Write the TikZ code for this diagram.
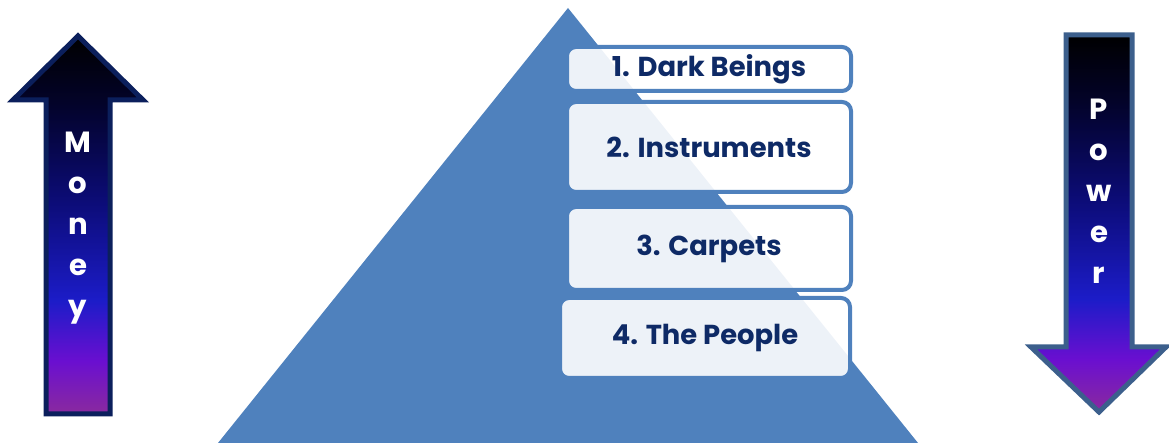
\documentclass[tikz,border=0pt]{standalone}
\usepackage{fontspec}
\setmainfont{Poppins}
\usepackage{tikz}
\usetikzlibrary{shapes,arrows,positioning,calc}
\definecolor{pyramidblue}{HTML}{4F81BD}
\definecolor{labelnavy}{HTML}{0E2A66}
\definecolor{moneyline}{HTML}{0B1F5C}
\definecolor{powerline}{HTML}{3C5F8C}
\definecolor{shadedark}{HTML}{03032A}
\definecolor{shadenavy}{HTML}{0C0C78}
\definecolor{shadeblue}{HTML}{1C1CC8}
\definecolor{shadepurple}{HTML}{6A0FD0}
\definecolor{shademauve}{HTML}{8A2A9E}
\pgfdeclareverticalshading{arrowshade}{100bp}{color(0bp)=(shademauve); color(25bp)=(shademauve); color(32bp)=(shadepurple); color(40bp)=(shadeblue); color(53bp)=(shadenavy); color(66bp)=(shadedark); color(75bp)=(black); color(100bp)=(black)}
\tikzset{
    level/.style={draw=pyramidblue, line width=0.04cm, rounded corners=0.09cm, fill=white, fill opacity=0.9, text opacity=1, text=labelnavy, font=\bfseries\fontsize{7.8}{9}\selectfont, minimum width=2.84cm, inner sep=0pt},
    bigarrow/.style={shading=arrowshade, line width=0.05cm, line join=miter},
    letter/.style={text=white, font=\bfseries\fontsize{8.3}{10}\selectfont, anchor=base, inner sep=0pt}
}

\begin{document}
\begin{tikzpicture}
    \useasboundingbox (0,0) rectangle (11.69,4.43);

    % pyramid
    \fill[pyramidblue] (2.18,0) -- (5.68,4.35) -- (9.18,0) -- cycle;

    % levels
    \node[level, minimum height=0.44cm] (dark) at (7.09,3.74) {1. Dark Beings};
    \node[level, minimum height=0.90cm] (instr) at (7.09,2.96) {2. Instruments};
    \node[level, minimum height=0.83cm] (carpet) at (7.09,1.945) {3. Carpets};
    \node[level, minimum height=0.80cm, minimum width=2.90cm] (people) at (7.05,1.05) {4. The People};

    % money arrow
    \draw[bigarrow, draw=moneyline] (0.46,0.29) -- (1.10,0.29) -- (1.10,3.43) -- (1.43,3.43)
        -- (0.78,4.07) -- (0.13,3.43) -- (0.46,3.43) -- cycle;
    \foreach \ch [count=\i] in {M,o,n,e,y}
        \node[letter] (money\i) at (0.78,{2.90-0.41*(\i-1)}) {\ch};

    % power arrow
    \draw[bigarrow, draw=powerline] (10.66,4.08) -- (11.32,4.08) -- (11.32,0.96) -- (11.66,0.96)
        -- (10.99,0.31) -- (10.31,0.96) -- (10.66,0.96) -- cycle;
    \foreach \ch [count=\i] in {P,o,w,e,r}
        \node[letter] (power\i) at (10.99,{3.23-0.41*(\i-1)}) {\ch};
\end{tikzpicture}
\end{document}
